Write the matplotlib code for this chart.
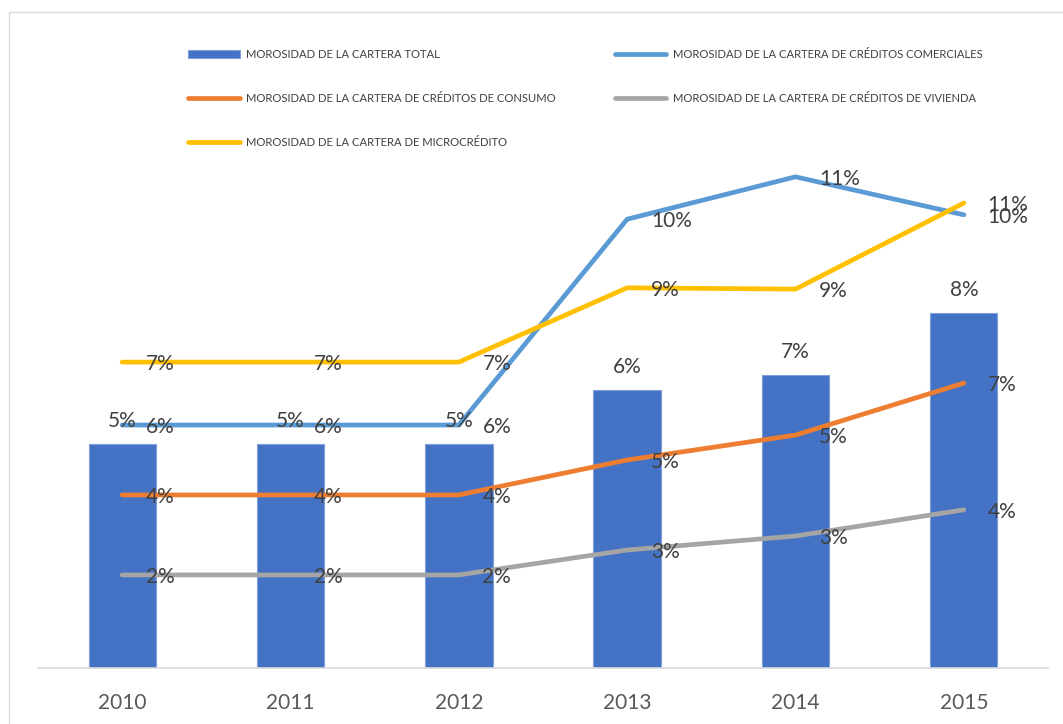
import numpy as np
import matplotlib.pyplot as plt
from matplotlib.patches import Rectangle

plt.rcParams['font.family'] = ['Lato', 'DejaVu Sans']

# Morosidad por tipo de cartera (fracción)
years = ['2010', '2011', '2012', '2013', '2014', '2015']
total = [0.0513, 0.0513, 0.0513, 0.0636, 0.0670, 0.0812]
comerciales = [0.0556, 0.0556, 0.0556, 0.1027, 0.1124, 0.1037]
consumo = [0.0396, 0.0396, 0.0396, 0.0476, 0.0533, 0.0652]
vivienda = [0.0213, 0.0213, 0.0213, 0.0270, 0.0302, 0.0362]
microcredito = [0.0700, 0.0700, 0.0700, 0.0870, 0.0867, 0.1064]

name_total = 'MOROSIDAD DE LA CARTERA TOTAL'
name_lines = ['MOROSIDAD DE LA CARTERA DE CRÉDITOS COMERCIALES',
              'MOROSIDAD DE LA CARTERA DE CRÉDITOS DE CONSUMO',
              'MOROSIDAD DE LA CARTERA DE CRÉDITOS DE VIVIENDA',
              'MOROSIDAD DE LA CARTERA DE MICROCRÉDITO']

TXT = '#404040'
fmt = lambda v: '%.0f%%' % (v * 100)

W, H = 1063, 724
fig = plt.figure(figsize=(W / 100, H / 100), dpi=100)
fig.patches.append(Rectangle((9 / W, -0.1), 1.2, 1 - 12 / H + 0.1,
                             transform=fig.transFigure, fill=False,
                             edgecolor='#D9D9D9', lw=1))

ax = fig.add_axes([38 / W, 56 / H, 1010 / W, 655.5 / H])
x = np.arange(len(years))

bars = ax.bar(x, total, width=0.4, color='#4472C4', edgecolor='#7F9FDB',
              lw=0.8, zorder=1)
for xi, v in zip(x, total):
    ax.annotate(fmt(v), (xi, v), xytext=(0, 16.5), textcoords='offset points',
                ha='center', va='center', fontsize=15, color=TXT, zorder=5)

series = [comerciales, consumo, vivienda, microcredito]
colors = ['#5B9BD5', '#ED7D31', '#A5A5A5', '#FFC000']
lines = []
for vals, c, n in zip(series, colors, name_lines):
    l, = ax.plot(x, vals, color=c, lw=3.4, solid_capstyle='round',
                 solid_joinstyle='round', label=n, zorder=2)
    lines.append(l)
    for xi, v in zip(x, vals):
        ax.annotate(fmt(v), (xi, v), xytext=(17, -1.5), textcoords='offset points',
                    ha='left', va='center', fontsize=15, color=TXT, zorder=5)

ax.set_xlim(-0.5, len(years) - 0.5)
ax.set_ylim(0, 0.15)
ax.set_xticks(x)
ax.set_xticklabels(years, fontsize=15, color='#595959')
ax.tick_params(axis='x', length=0, pad=18)
ax.set_yticks([])
for s in ['top', 'left', 'right']:
    ax.spines[s].set_visible(False)
ax.spines['bottom'].set_color('#D9D9D9')
ax.spines['bottom'].set_linewidth(1.2)

# columnas del legend se llenan por columna
handles = [bars, lines[1], lines[3], lines[0], lines[2]]
labels = [name_total, name_lines[1], name_lines[3], name_lines[0], name_lines[2]]
fig.legend(handles, labels, loc='upper left', bbox_to_anchor=(188 / W, 1 - 48.5 / H),
           ncol=2, frameon=False, fontsize=8.1, labelcolor=TXT,
           handlelength=4.6, handletextpad=0.55, columnspacing=5.25,
           labelspacing=2.95, borderpad=0, borderaxespad=0)

fig.savefig('out.png', dpi=100)
